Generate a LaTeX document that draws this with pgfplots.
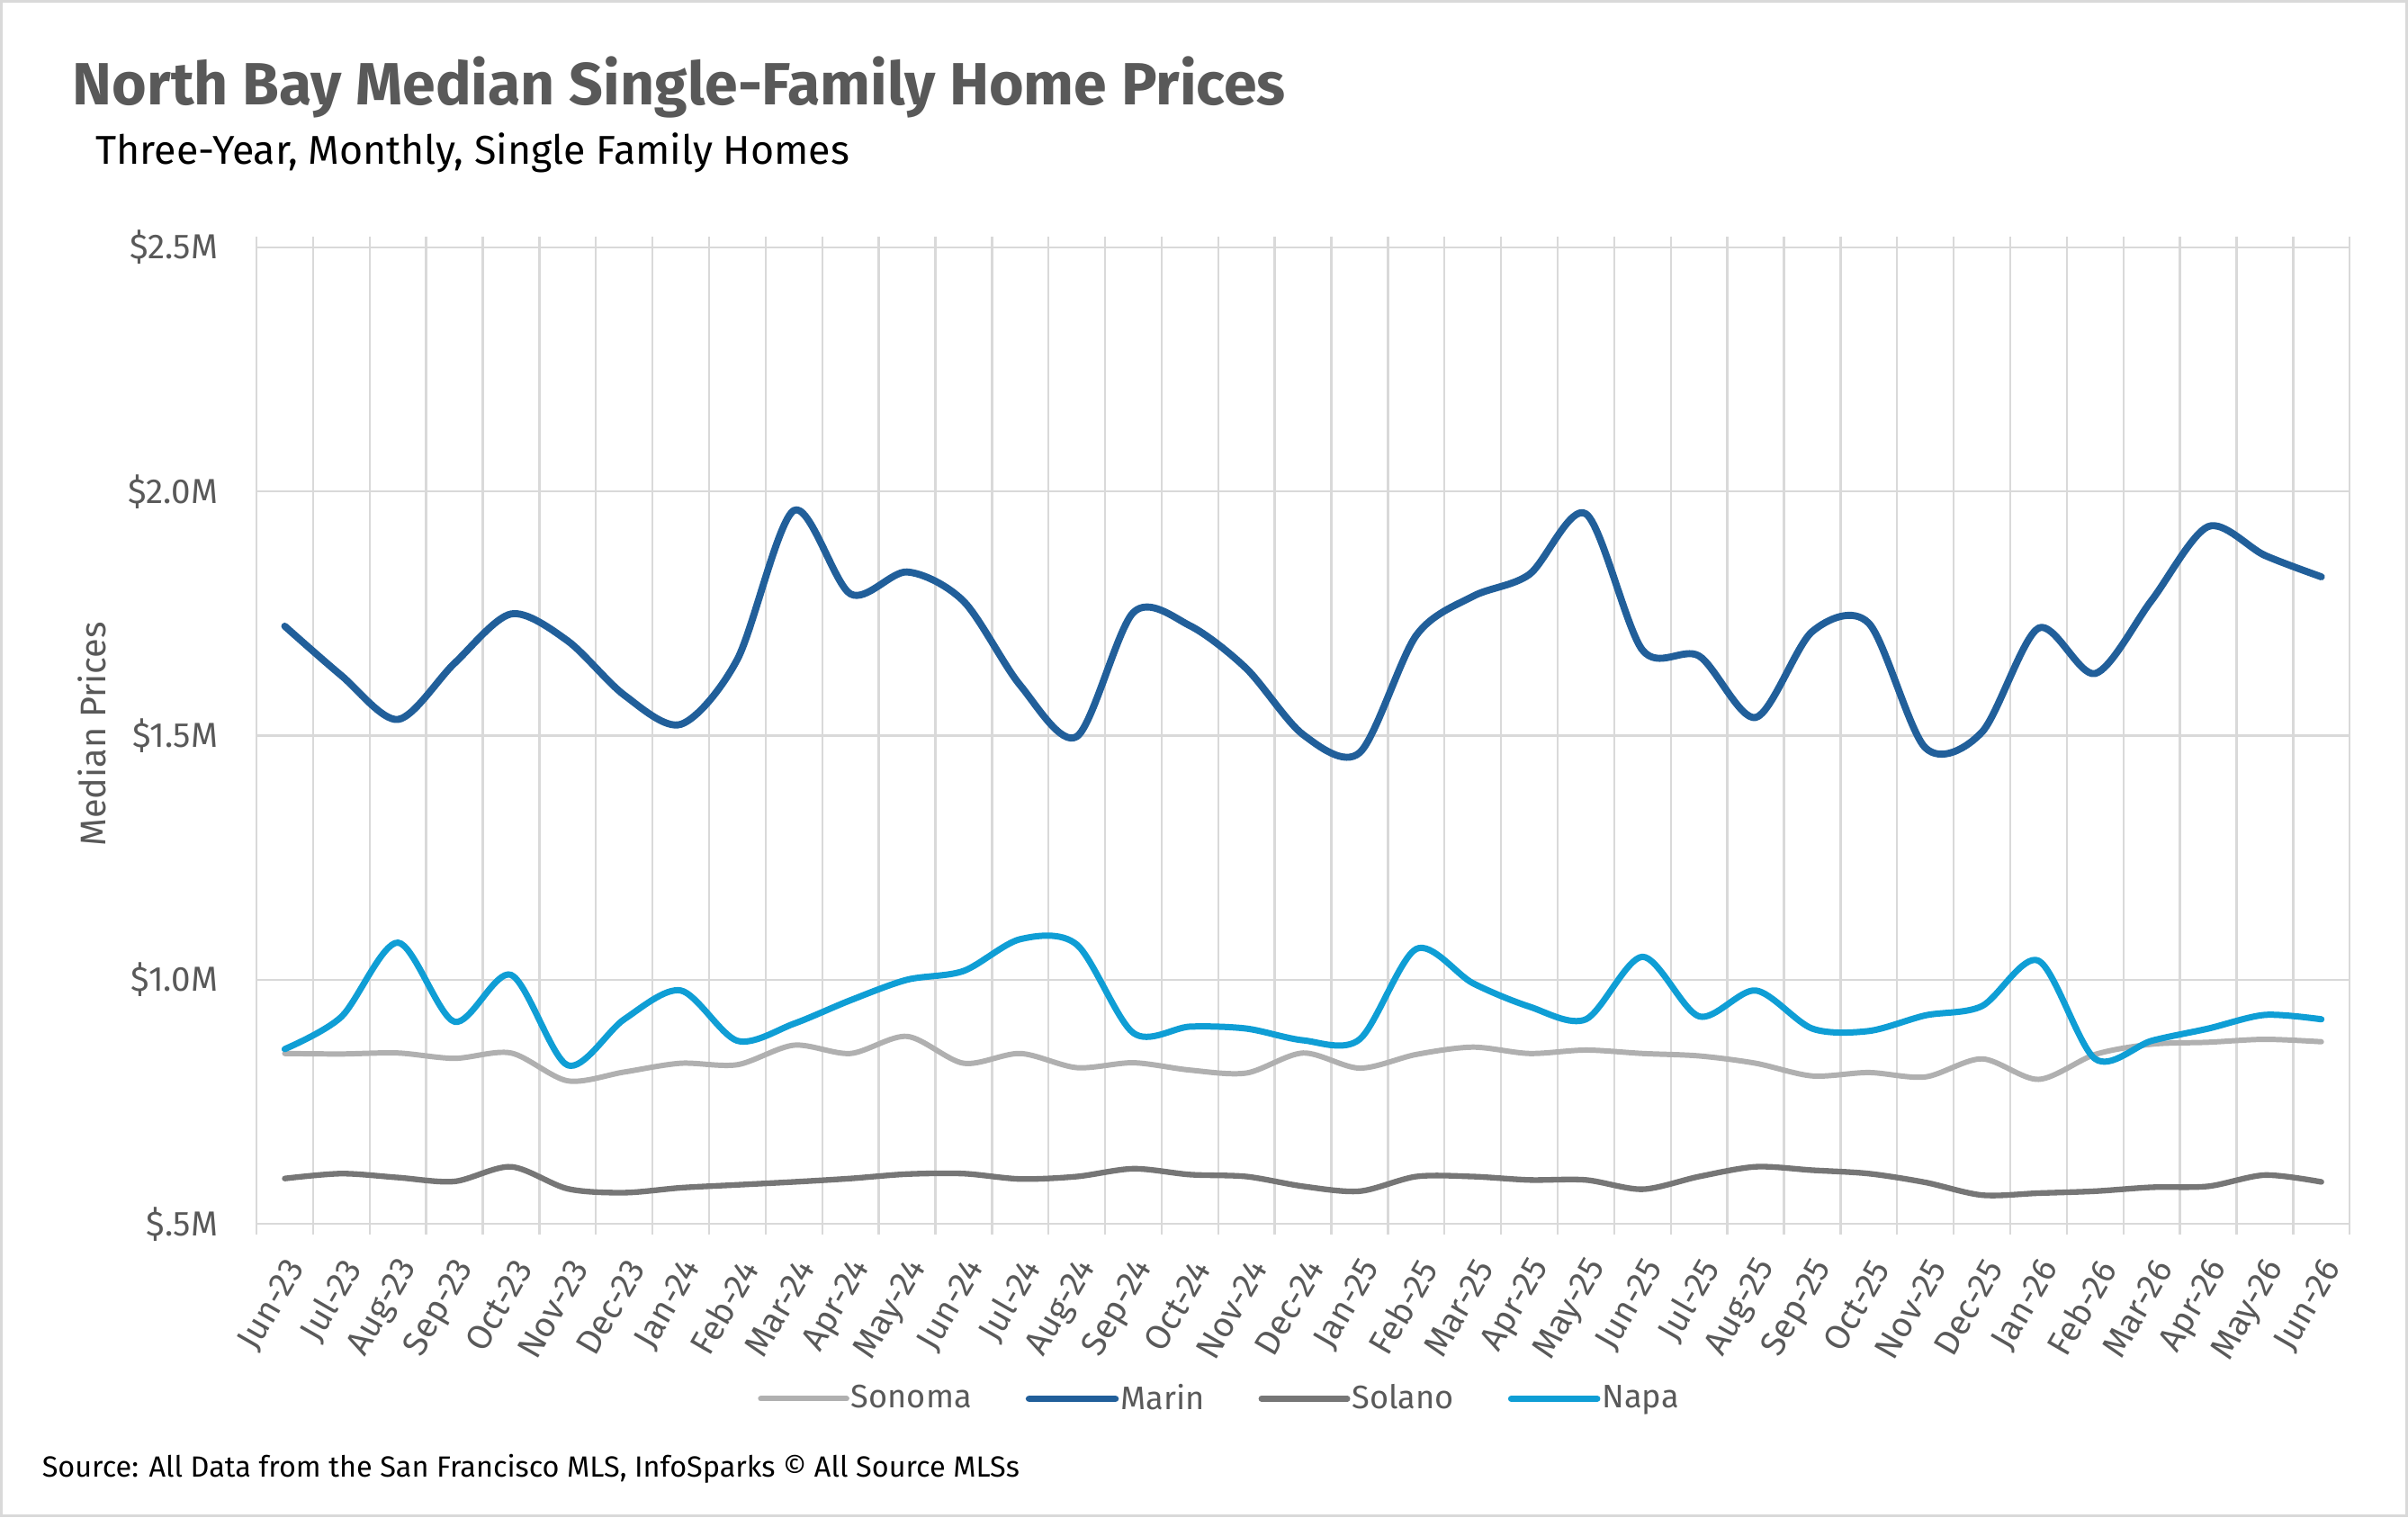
\documentclass[border=0pt]{standalone}
\usepackage{fontspec}
\setmainfont{Fira Sans}
\usepackage{pgfplots}
\usepackage{pgfplotstable}
\pgfplotsset{compat=1.18}
\definecolor{marin}{HTML}{215F9A}
\definecolor{napa}{HTML}{0F9ED5}
\definecolor{sonoma}{HTML}{B0B0B0}
\definecolor{solano}{HTML}{767676}
\definecolor{gridc}{HTML}{D9D9D9}
\definecolor{txt}{HTML}{595959}

\pgfplotstableread{
idx sonoma marin solano napa
0 0.849 1.724 0.593 0.858
1 0.848 1.623 0.603 0.924
2 0.850 1.533 0.595 1.076
3 0.839 1.648 0.587 0.914
4 0.850 1.749 0.617 1.010
5 0.793 1.694 0.572 0.825
6 0.811 1.583 0.564 0.919
7 0.829 1.523 0.574 0.978
8 0.826 1.656 0.580 0.875
9 0.866 1.961 0.586 0.910
10 0.849 1.790 0.593 0.958
11 0.884 1.835 0.602 1.000
12 0.829 1.775 0.603 1.018
13 0.849 1.603 0.592 1.083
14 0.820 1.498 0.597 1.072
15 0.830 1.752 0.613 0.891
16 0.815 1.725 0.601 0.904
17 0.809 1.637 0.597 0.900
18 0.850 1.502 0.577 0.876
19 0.819 1.465 0.567 0.878
20 0.847 1.705 0.597 1.063
21 0.862 1.785 0.597 0.993
22 0.849 1.830 0.590 0.945
23 0.856 1.954 0.590 0.919
24 0.849 1.675 0.571 1.047
25 0.844 1.663 0.597 0.925
26 0.829 1.537 0.617 0.978
27 0.803 1.713 0.610 0.900
28 0.810 1.730 0.603 0.895
29 0.801 1.475 0.585 0.927
30 0.838 1.507 0.559 0.946
31 0.796 1.720 0.563 1.039
32 0.847 1.627 0.567 0.838
33 0.868 1.777 0.575 0.875
34 0.872 1.928 0.577 0.900
35 0.878 1.869 0.600 0.928
36 0.873 1.825 0.586 0.919
}\data

\begin{document}
\begin{tikzpicture}[x=1pt,y=1pt]
\draw[gridc, line width=1pt] (0.5,0.5) rectangle (783.5,493.5);
\node[anchor=base west, font=\fontsize{19.4}{22}\selectfont\bfseries, text=txt, inner sep=0] at (23.5,460) {North Bay Median Single-Family Home Prices};
\node[anchor=base west, font=\fontsize{13.1}{16}\selectfont, text=black, inner sep=0] at (31,440.5) {Three-Year, Monthly, Single Family Homes};
\node[anchor=base west, font=\fontsize{9.5}{11}\selectfont, text=black, inner sep=0] at (13.5,13) {Source: All Data from the San Francisco MLS, InfoSparks © All Source MLSs};
\node[rotate=90, font=\fontsize{11.6}{13}\selectfont, text=txt, inner sep=0] at (30,255) {Median Prices};
\begin{axis}[
  at={(83.5pt,95.5pt)}, anchor=south west, scale only axis,
  width=681.5pt, height=318pt,
  xmin=-0.5, xmax=36.5, ymin=0.5, ymax=2.5,
  axis line style={draw=none},
  ytick={0.5,1,1.5,2,2.5},
  yticklabels={\$.5M,\$1.0M,\$1.5M,\$2.0M,\$2.5M},
  ymajorgrids,
  major grid style={gridc, line width=0.7pt},
  xtick={0,...,36},
  xticklabels={Jun-23,Jul-23,Aug-23,Sep-23,Oct-23,Nov-23,Dec-23,Jan-24,Feb-24,Mar-24,Apr-24,May-24,Jun-24,Jul-24,Aug-24,Sep-24,Oct-24,Nov-24,Dec-24,Jan-25,Feb-25,Mar-25,Apr-25,May-25,Jun-25,Jul-25,Aug-25,Sep-25,Oct-25,Nov-25,Dec-25,Jan-26,Feb-26,Mar-26,Apr-26,May-26,Jun-26},
  minor xtick={-0.5,0.5,...,36.5},
  xminorgrids,
  minor grid style={gridc, line width=0.7pt},
  tick align=outside,
  major tick length=0pt,
  minor tick length=3.5pt,
  minor x tick style={gridc, line width=0.7pt},
  major tick style={draw=none},
  xticklabel style={xshift=4.5pt, yshift=-11.7pt, rotate=60, anchor=east, font=\fontsize{11.3}{12}\selectfont, text=txt, inner sep=1pt},
  yticklabel style={font=\fontsize{11.3}{12}\selectfont, text=txt, xshift=-9pt},
  legend style={at={(0.460,-0.179)}, anchor=center, draw=none, fill=none,
    font=\fontsize{10.6}{12}\selectfont, text=txt,
    nodes={inner sep=0.6pt},
    /tikz/every even column/.append style={column sep=17pt}},
  legend columns=4,
  legend image code/.code={\draw[#1, line cap=round] (0pt,0pt) -- (28pt,0pt);},
  every axis plot/.append style={smooth, tension=0.5, line cap=round, line join=round, no markers},
]
\addplot[sonoma, line width=1.75pt] table[x=idx, y=sonoma] {\data};
\addlegendentry{Sonoma}
\addplot[marin, line width=2.3pt] table[x=idx, y=marin] {\data};
\addlegendentry{Marin}
\addplot[solano, line width=1.85pt] table[x=idx, y=solano] {\data};
\addlegendentry{Solano}
\addplot[napa, line width=2.05pt] table[x=idx, y=napa] {\data};
\addlegendentry{Napa}
\end{axis}
\end{tikzpicture}
\end{document}
